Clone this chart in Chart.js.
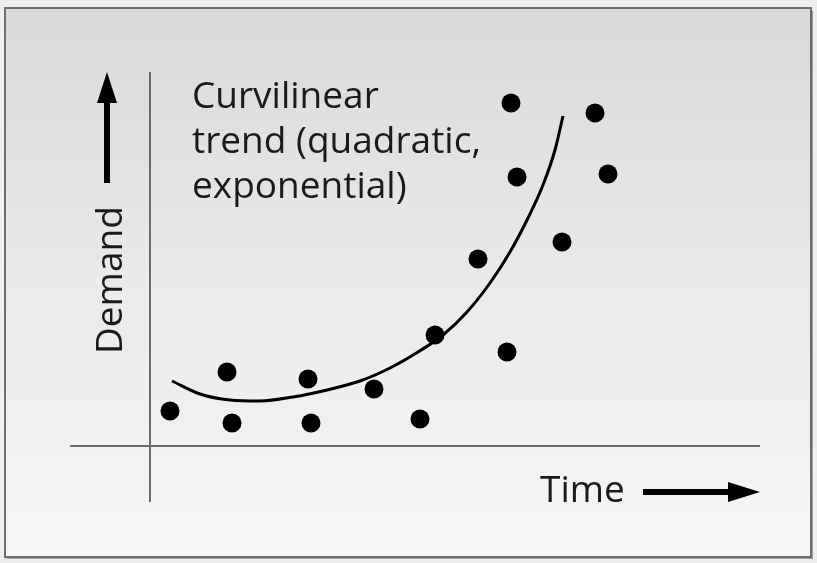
<!DOCTYPE html>
<html>
<head>
<meta charset="utf-8">
<script src="https://cdn.jsdelivr.net/npm/chart.js@4/dist/chart.umd.min.js"></script>
<style>
  html, body { margin: 0; padding: 0; background: #f0f0f0; }
  #wrap { width: 817px; height: 563px; }
</style>
</head>
<body>
<div id="wrap"><canvas id="c" width="817" height="563"></canvas></div>
<script>
const timeValues   = [2.0, 7.7, 8.2, 15.8, 16.1, 22.4, 27.0, 28.5, 32.8, 35.7, 36.1, 36.7, 41.2, 44.5, 45.8];
const demandValues = [3.5, 7.4, 2.3, 6.7, 2.3, 5.7, 2.7, 11.1, 18.7, 9.4, 34.3, 26.9, 20.4, 33.3, 27.2];

// Curvilinear trend line
const trendTime   = [2.2, 5.0, 8.0, 11.0, 14.3, 17.7, 21.0, 24.0, 26.8, 29.3, 31.7, 34.0, 36.0, 37.8, 39.3, 40.5, 41.3];
const trendDemand = [6.5, 5.2, 4.6, 4.5, 4.9, 5.6, 6.5, 7.8, 9.4, 11.1, 13.4, 16.3, 19.4, 22.8, 26.1, 29.6, 33.0];

// Texts
const annotationLines = ["Curvilinear", "trend (quadratic,", "exponential)"];
const xAxisLabel = "Time";
const yAxisLabel = "Demand";

const FONT = '"Open Sans", "DejaVu Sans", sans-serif';

const decorPlugin = {
  id: 'decor',
  beforeDraw(chart) {
    const ctx = chart.ctx;
    const W = chart.width, H = chart.height;
    ctx.save();
    ctx.fillStyle = '#efefef';
    ctx.fillRect(0, 0, W, H);
    // shadow
    ctx.fillStyle = '#9a9a9a';
    ctx.fillRect(7, 11, 806, 548);
    // panel
    const g = ctx.createLinearGradient(0, 8, 0, 556);
    g.addColorStop(0, '#d9d9d9');
    g.addColorStop(0.5, '#eaeaea');
    g.addColorStop(1, '#f6f6f6');
    ctx.fillStyle = g;
    ctx.fillRect(5, 8, 806, 549);
    ctx.strokeStyle = '#6e6e6e';
    ctx.lineWidth = 2;
    ctx.strokeRect(5, 8, 806, 549);

    // axes through the zero values of the scales
    const xs = chart.scales.x, ys = chart.scales.y;
    const x0 = xs.getPixelForValue(0), y0 = ys.getPixelForValue(0);
    ctx.strokeStyle = '#6a6a6a';
    ctx.lineWidth = 2;
    ctx.beginPath();
    ctx.moveTo(x0, chart.chartArea.top);
    ctx.lineTo(x0, chart.chartArea.bottom);
    ctx.moveTo(chart.chartArea.left, y0);
    ctx.lineTo(chart.chartArea.right, y0);
    ctx.stroke();
    ctx.restore();
  },
  afterDraw(chart) {
    const ctx = chart.ctx;
    ctx.save();
    ctx.fillStyle = '#1a1a1a';
    ctx.font = '37px ' + FONT;
    ctx.textBaseline = 'alphabetic';
    ctx.textAlign = 'left';
    const lineY = [108, 153, 198];
    annotationLines.forEach((t, i) => ctx.fillText(t, 192, lineY[i]));

    // Time label + arrow
    ctx.fillText(xAxisLabel, 540, 502);
    ctx.fillStyle = '#000';
    ctx.fillRect(643, 489, 90, 6);
    ctx.beginPath();
    ctx.moveTo(760, 492);
    ctx.lineTo(728, 482);
    ctx.lineTo(728, 502);
    ctx.closePath();
    ctx.fill();

    // Demand label (rotated) + arrow
    ctx.save();
    ctx.translate(122, 354);
    ctx.rotate(-Math.PI / 2);
    ctx.fillStyle = '#1a1a1a';
    ctx.fillText(yAxisLabel, 0, 0);
    ctx.restore();
    ctx.fillStyle = '#000';
    ctx.fillRect(104, 98, 6, 85);
    ctx.beginPath();
    ctx.moveTo(107, 72);
    ctx.lineTo(97, 103);
    ctx.lineTo(117, 103);
    ctx.closePath();
    ctx.fill();
    ctx.restore();
  }
};

new Chart(document.getElementById('c'), {
  type: 'scatter',
  data: {
    datasets: [
      {
        label: 'Trend',
        data: trendTime.map((x, i) => ({ x, y: trendDemand[i] })),
        showLine: true,
        borderColor: '#000',
        borderWidth: 3,
        pointRadius: 0,
        cubicInterpolationMode: 'monotone',
        fill: false
      },
      {
        label: 'Demand',
        data: timeValues.map((x, i) => ({ x, y: demandValues[i] })),
        backgroundColor: '#000',
        borderColor: '#000',
        pointRadius: 9.5,
        pointBorderWidth: 0
      }
    ]
  },
  options: {
    responsive: false,
    animation: false,
    devicePixelRatio: 1,
    layout: { padding: { left: 70, top: 72, right: 57, bottom: 61 } },
    plugins: { legend: { display: false }, tooltip: { enabled: false }, title: { display: false } },
    scales: {
      x: { type: 'linear', display: false, min: -8, max: 61 },
      y: { type: 'linear', display: false, min: -5.6, max: 37.4 }
    }
  },
  plugins: [decorPlugin]
});
</script>
</body>
</html>
